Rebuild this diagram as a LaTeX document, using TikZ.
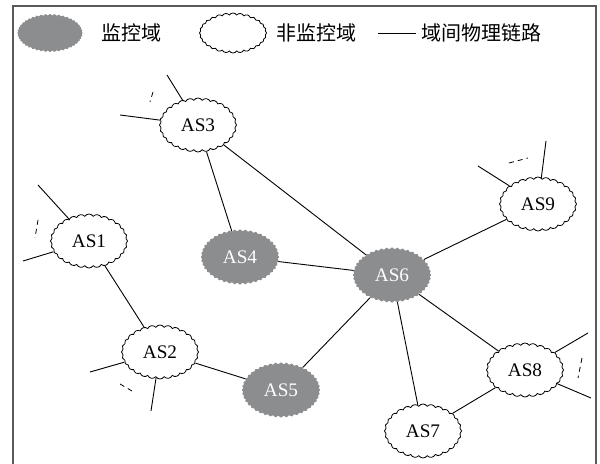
\documentclass[tikz,border=0pt]{standalone}
\usepackage{fontspec}
\setmainfont{Liberation Serif}
\newfontfamily\cjk{Noto Sans CJK SC}
\usepackage{xcolor}
\usetikzlibrary{shapes.symbols}
\definecolor{domgray}{RGB}{140,141,143}
\definecolor{framegray}{RGB}{90,90,90}

\tikzset{
  asbase/.style={cloud, aspect=1.4, minimum width=38.5pt, minimum height=27pt,
    inner sep=0pt, font=\fontsize{9.6}{10}\selectfont},
  asfree/.style={asbase, draw, line width=0.4pt, cloud puffs=28, cloud puff arc=115},
  asmon/.style={asbase, draw=domgray, fill=domgray, text=white, line width=0.5pt,
    cloud puffs=44, cloud puff arc=140},
  link/.style={line width=0.45pt},
  gap/.style={line width=0.4pt, dash pattern=on 2.5pt off 2pt},
  legtext/.style={font=\cjk\fontsize{10}{12}\selectfont, anchor=west, inner sep=0pt}
}

\begin{document}
\begin{tikzpicture}[x=0.5pt,y=-0.5pt]
\useasboundingbox (0,0) rectangle (600,464);
% frame, open at the bottom
\draw[framegray, line width=0.9pt] (13,464) -- (13,6) -- (596,6) -- (596,464);

% legend
\node[asmon, minimum width=32pt, minimum height=18.5pt] (legmon) at (50,33) {};
\node[legtext] (legmontext) at (101,33) {监控域};
\node[asfree, minimum width=33.5pt, minimum height=20pt] (legfree) at (233,33) {};
\node[legtext] (legfreetext) at (276,33) {非监控域};
\coordinate (legla) at (378,33);
\coordinate (leglb) at (416,33);
\draw[link] (legla) -- (leglb);
\node[legtext] (leglinktext) at (421,33) {域间物理链路};

% domains
\node[asfree] (as1) at (89,241) {AS1};
\node[asfree] (as2) at (160,352) {AS2};
\node[asfree] (as3) at (198,125) {AS3};
\node[asmon]  (as4) at (240,257) {AS4};
\node[asmon]  (as5) at (281,390) {AS5};
\node[asmon]  (as6) at (392,275) {AS6};
\node[asfree] (as7) at (423,431) {AS7};
\node[asfree] (as8) at (525,370) {AS8};
\node[asfree] (as9) at (538,204) {AS9};

% inter-domain links
\draw[link] (as3) -- (as4);
\draw[link] (as3) -- (as6);
\draw[link] (as1) -- (as2);
\draw[link] (as2) -- (as5);
\draw[link] (as4) -- (as6);
\draw[link] (as5) -- (as6);
\draw[link] (as6) -- (as9);
\draw[link] (as6) -- (as8);
\draw[link] (as6) -- (as7);
\draw[link] (as7) -- (as8);

% links leaving the picture
\coordinate (as3up) at (167,75);
\coordinate (as3left) at (120,115);
\coordinate (as1up) at (38,185);
\coordinate (as1left) at (23,261);
\coordinate (as2left) at (90,372);
\coordinate (as2down) at (151,411);
\coordinate (as9up) at (546,141);
\coordinate (as9left) at (478,166);
\coordinate (as8up) at (588,333);
\coordinate (as8down) at (591,398);
\draw[link] (as3) -- (as3up);
\draw[link] (as3) -- (as3left);
\draw[link] (as1) -- (as1up);
\draw[link] (as1) -- (as1left);
\draw[link] (as2) -- (as2left);
\draw[link] (as2) -- (as2down);
\draw[link] (as9) -- (as9up);
\draw[link] (as9) -- (as9left);
\draw[link] (as8) -- (as8up);
\draw[link] (as8) -- (as8down);

% dashed marks for further links
\coordinate (as3ga) at (153,92);
\coordinate (as3gb) at (150,102);
\coordinate (as1ga) at (38,220);
\coordinate (as1gb) at (35,238);
\coordinate (as2ga) at (120,384);
\coordinate (as2gb) at (132,391);
\coordinate (as9ga) at (509,163);
\coordinate (as9gb) at (528,158);
\coordinate (as8ga) at (582,358);
\coordinate (as8gb) at (578,378);
\draw[gap] (as3ga) -- (as3gb);
\draw[gap] (as1ga) -- (as1gb);
\draw[gap] (as2ga) -- (as2gb);
\draw[gap] (as9ga) -- (as9gb);
\draw[gap] (as8ga) -- (as8gb);
\end{tikzpicture}
\end{document}
